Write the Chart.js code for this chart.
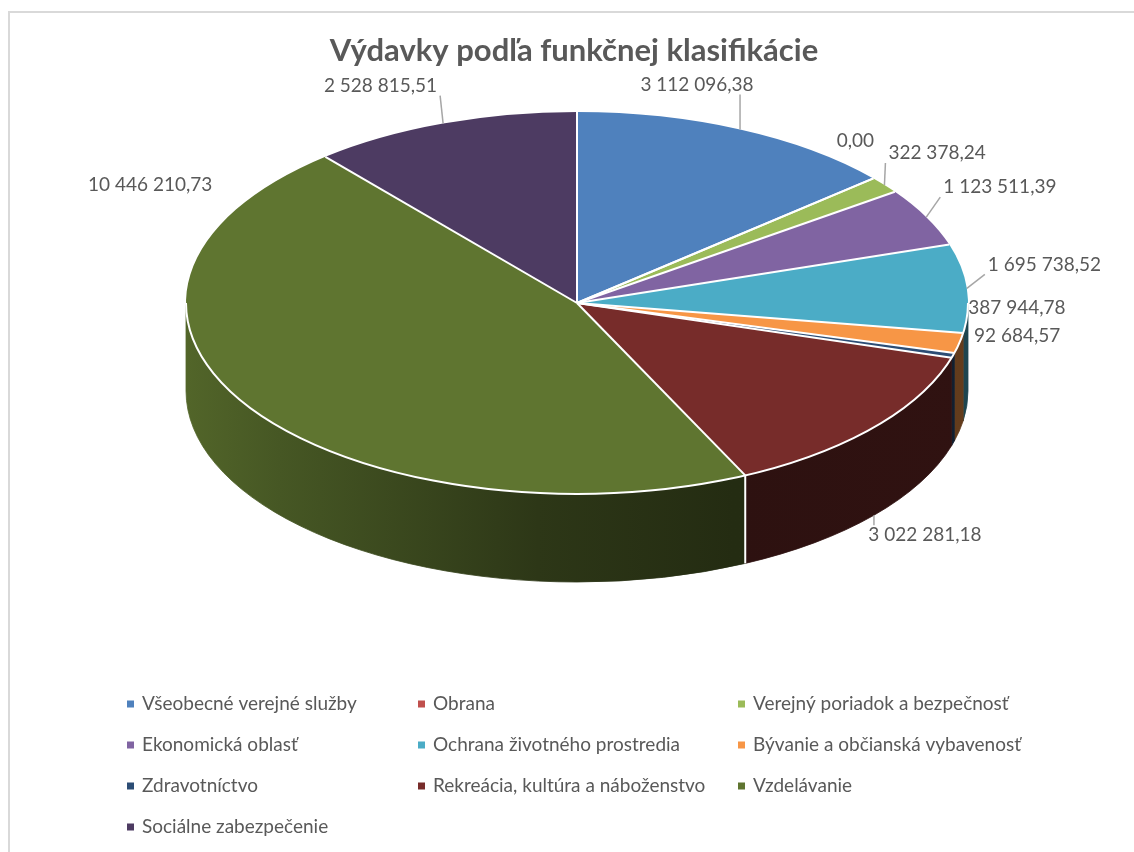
<!DOCTYPE html>
<html><head><meta charset="utf-8">
<script src="https://cdn.jsdelivr.net/npm/chart.js@4.4.1/dist/chart.umd.min.js"></script>
<style>html,body{margin:0;padding:0;background:#fff}#wrap{position:relative;width:1134px;height:852px}</style>
</head><body><div id="wrap"><canvas id="c"></canvas></div>
<script>
// ---- data ----
const chartTitle = 'Výdavky podľa funkčnej klasifikácie';
const categories = [
  'Všeobecné verejné služby', 'Obrana', 'Verejný poriadok a bezpečnosť',
  'Ekonomická oblasť', 'Ochrana životného prostredia', 'Bývanie a občianská vybavenosť',
  'Zdravotníctvo', 'Rekreácia, kultúra a náboženstvo', 'Vzdelávanie',
  'Sociálne zabezpečenie'
];
const values = [3112096.38, 0, 322378.24, 1123511.39, 1695738.52, 387944.78, 92684.57, 3022281.18, 10446210.73, 2528815.51];
const colors = ['#4f81bd', '#c0504d', '#9bbb59', '#8064a2', '#4bacc6', '#f79646', '#2c4d75', '#772c2a', '#5f7530', '#4d3b62'];

// ---- label placement (offsets from slice edge anchor) ----
const labelDX = [-43, -18, 4, 17, 21, 9, 21, 51, -98, -6];
const labelDY = [-45, -38, -32, -30, -24, -35, -20, 20, -309, -38];
const labelAlign = ['center', 'center', 'left', 'left', 'left', 'left', 'left', 'center', 'center', 'right'];
const labelLeader = [true, false, true, true, true, false, false, true, false, true];

// ---- 3D geometry / style ----
const GEOM = { cx: 577, cy: 303, rx: 391, ry: 191, depth: 88 };
const TEXT = '#595959';
const FONT = 'Lato, "Open Sans", sans-serif';

function fmt(v) {
  const p = v.toFixed(2).split('.');
  return p[0].replace(/\B(?=(\d{3})+(?!\d))/g, ' ') + ',' + p[1];
}
function shade(hex, f) {
  const n = parseInt(hex.slice(1), 16);
  const r = Math.round(((n >> 16) & 255) * f), g = Math.round(((n >> 8) & 255) * f), b = Math.round((n & 255) * f);
  return 'rgb(' + r + ',' + g + ',' + b + ')';
}
function ePt(a, dy) {
  return { x: GEOM.cx + GEOM.rx * Math.cos(a), y: GEOM.cy + (dy || 0) + GEOM.ry * Math.sin(a) };
}

const pie3d = {
  id: 'pie3d',
  beforeDraw(chart) {
    const ctx = chart.ctx;
    ctx.save();
    ctx.fillStyle = '#fff';
    ctx.fillRect(0, 0, chart.width, chart.height);
    ctx.strokeStyle = '#d9d9d9';
    ctx.lineWidth = 2;
    ctx.strokeRect(9, 12, chart.width + 20, chart.height + 20);
    ctx.restore();
  },
  beforeDatasetsDraw(chart) {
    const ctx = chart.ctx, g = GEOM;
    const arcs = chart.getDatasetMeta(0).data;
    ctx.save();
    // side walls (front half only)
    arcs.forEach((a, i) => {
      const s = Math.max(a.startAngle, 0), e = Math.min(a.endAngle, Math.PI);
      if (e <= s) return;
      const base = chart.data.datasets[0].backgroundColor[i];
      const gr = ctx.createLinearGradient(g.cx - g.rx, 0, g.cx + g.rx, 0);
      gr.addColorStop(0, shade(base, 0.86));
      gr.addColorStop(0.12, shade(base, 0.74));
      gr.addColorStop(0.45, shade(base, 0.47));
      gr.addColorStop(0.7, shade(base, 0.38));
      gr.addColorStop(1, shade(base, 0.40));
      ctx.beginPath();
      ctx.ellipse(g.cx, g.cy, g.rx, g.ry, 0, s, e, false);
      ctx.ellipse(g.cx, g.cy + g.depth, g.rx, g.ry, 0, e, s, true);
      ctx.closePath();
      ctx.fillStyle = gr;
      ctx.strokeStyle = gr;
      ctx.lineWidth = 0.8;
      ctx.fill();
      ctx.stroke();
    });
    // wall separators
    ctx.strokeStyle = '#fff';
    ctx.lineWidth = 2;
    arcs.forEach((a) => {
      const ang = a.startAngle;
      if (ang > 0.3 && ang < Math.PI - 0.3) {
        const p = ePt(ang);
        ctx.beginPath();
        ctx.moveTo(p.x, p.y);
        ctx.lineTo(p.x, p.y + g.depth);
        ctx.stroke();
      }
    });
    ctx.restore();
    // top face transform
    const a0 = arcs[0];
    ctx.save();
    ctx.translate(g.cx, g.cy);
    ctx.scale(g.rx / a0.outerRadius, g.ry / a0.outerRadius);
    ctx.translate(-a0.x, -a0.y);
  },
  afterDatasetsDraw(chart) {
    const ctx = chart.ctx, g = GEOM;
    ctx.restore();
    const arcs = chart.getDatasetMeta(0).data;
    ctx.save();
    // slice separators on the top face
    ctx.strokeStyle = '#fff';
    ctx.lineWidth = 2;
    arcs.forEach((a) => {
      const p = ePt(a.startAngle);
      ctx.beginPath();
      ctx.moveTo(g.cx, g.cy);
      ctx.lineTo(p.x, p.y);
      ctx.stroke();
    });
    ctx.beginPath();
    ctx.ellipse(g.cx, g.cy, g.rx, g.ry, 0, 0, Math.PI, false);
    ctx.stroke();

    // data labels
    ctx.font = '19px ' + FONT;
    ctx.fillStyle = TEXT;
    ctx.textBaseline = 'middle';
    arcs.forEach((a, i) => {
      const mid = (a.startAngle + a.endAngle) / 2;
      const front = Math.sin(mid) > 0.5;
      const anchor = ePt(mid, front ? g.depth : 0);
      const tx = anchor.x + labelDX[i], ty = anchor.y + labelDY[i];
      const txt = fmt(values[i]);
      const w = ctx.measureText(txt).width;
      let left = labelAlign[i] === 'left' ? tx : labelAlign[i] === 'right' ? tx - w : tx - w / 2;
      if (labelLeader[i]) {
        const bx = Math.min(Math.max(anchor.x, left - 3), left + w + 3);
        const by = Math.min(Math.max(anchor.y, ty - 10), ty + 10);
        ctx.strokeStyle = '#a6a6a6';
        ctx.lineWidth = 1.5;
        ctx.beginPath();
        ctx.moveTo(anchor.x, anchor.y);
        ctx.lineTo(bx, by);
        ctx.stroke();
      }
      ctx.textAlign = 'left';
      ctx.fillText(txt, left, ty);
    });
    ctx.restore();
  },
  afterDraw(chart) {
    const ctx = chart.ctx;
    const colX = [127, 418, 738];
    const rowY = [704, 745, 786, 827];
    ctx.save();
    ctx.font = '19px ' + FONT;
    ctx.textBaseline = 'middle';
    ctx.textAlign = 'left';
    categories.forEach((c, i) => {
      const x = colX[i % 3], y = rowY[Math.floor(i / 3)];
      ctx.fillStyle = colors[i];
      ctx.fillRect(x, y - 3.5, 7, 7);
      ctx.fillStyle = TEXT;
      ctx.fillText(c, x + 15, y);
    });
    ctx.restore();
  }
};

new Chart(document.getElementById('c'), {
  type: 'pie',
  data: {
    labels: categories,
    datasets: [{ data: values, backgroundColor: colors, borderWidth: 0, clip: false }]
  },
  options: {
    responsive: true,
    maintainAspectRatio: false,
    animation: false,
    layout: { padding: { top: 18, left: 14, right: 0, bottom: 0 } },
    plugins: {
      legend: { display: false },
      tooltip: { enabled: false },
      title: {
        display: true, text: chartTitle, color: TEXT,
        font: { family: FONT, size: 31, weight: 'bold' },
        padding: { top: 14, bottom: 10 }
      }
    }
  },
  plugins: [pie3d]
});
</script>
</body></html>
